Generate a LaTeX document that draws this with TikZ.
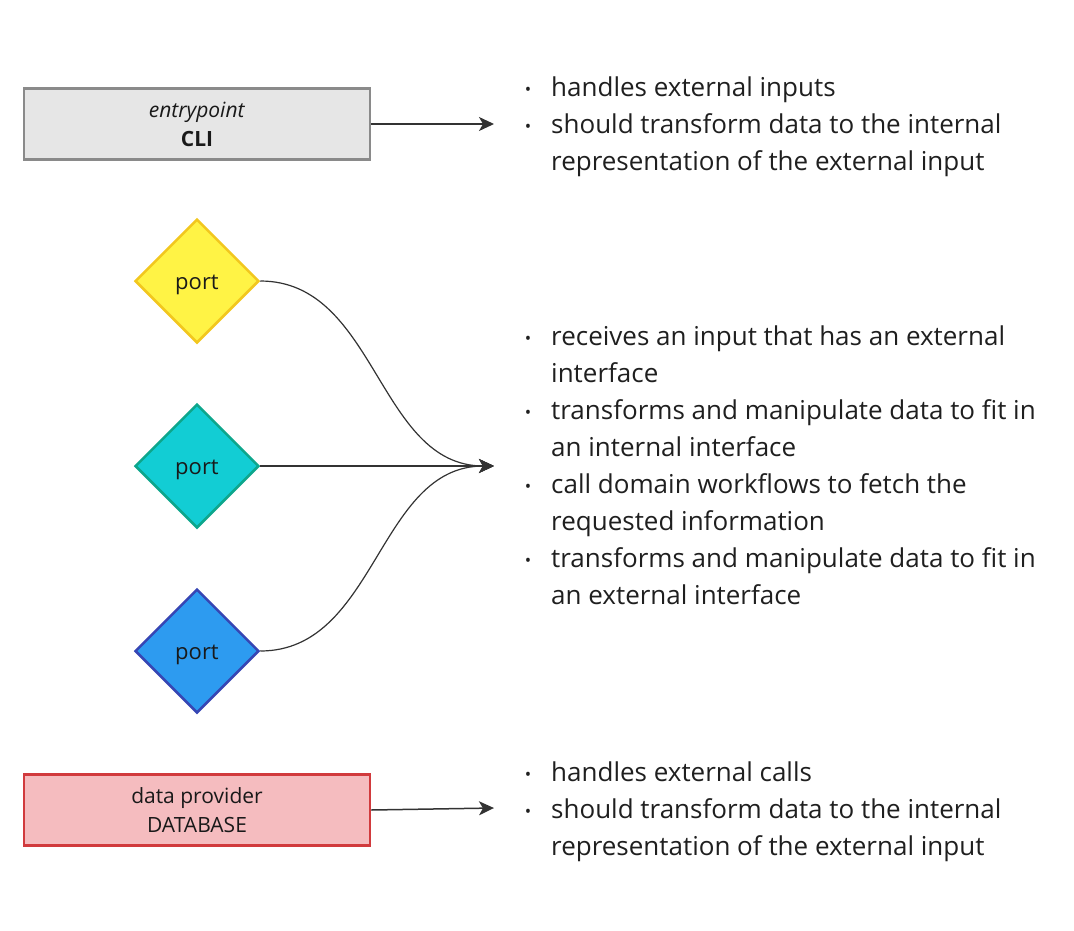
\documentclass[tikz,border=0pt]{standalone}
\usepackage{fontspec}
\setmainfont{Open Sans}
\usetikzlibrary{shapes.geometric,arrows.meta}

\definecolor{cligray}{HTML}{E6E6E6}
\definecolor{cliline}{HTML}{8A8A8A}
\definecolor{dbfill}{HTML}{F5BCBF}
\definecolor{dbline}{HTML}{D13A3D}
\definecolor{yelfill}{HTML}{FFF345}
\definecolor{yelline}{HTML}{F2C71E}
\definecolor{tealfill}{HTML}{12CDD4}
\definecolor{tealline}{HTML}{0DA68C}
\definecolor{bluefill}{HTML}{2D9BF0}
\definecolor{blueline}{HTML}{3646B4}
\definecolor{arrowcol}{HTML}{333333}

\newcommand{\itm}{\llap{{\fontsize{17}{17}\selectfont\raisebox{1pt}{•}}\hspace{20pt}}}

\begin{document}
\begin{tikzpicture}
[x=1pt,y=-1pt,
 box/.style={rectangle,draw,line width=2.5pt,minimum width=346pt,minimum height=71pt,
   align=center,font=\fontsize{21}{29}\selectfont,text=black!90},
 port/.style={diamond,draw,line width=2.5pt,minimum width=124pt,minimum height=124pt,
   inner sep=0pt,text height=17pt,text depth=0pt,font=\fontsize{22}{22}\selectfont,text=black!90},
 note/.style={anchor=north west,align=left,inner sep=0pt,
   font=\fontsize{26}{37}\selectfont,text=black!88},
 link/.style={draw=arrowcol,line width=1.5pt,-{Stealth[length=15pt,width=14pt,inset=4pt]}}]

  \useasboundingbox (0,0) rectangle (1074,930);

  \node[box,fill=cligray,draw=cliline] (cli) at (197,124) {\textit{entrypoint}\\\textbf{CLI}};
  \node[box,fill=dbfill,draw=dbline] (db) at (197,810) {data provider\\DATABASE};

  \node[port,fill=yelfill,draw=yelline] (p1) at (197,281) {port};
  \node[port,fill=tealfill,draw=tealline] (p2) at (197,466) {port};
  \node[port,fill=bluefill,draw=blueline] (p3) at (197,651) {port};

  \coordinate (clitip) at (494,124);
  \coordinate (porttip) at (494,466);
  \coordinate (dbtip) at (494,808);

  \draw[link] (cli.east) -- (clitip);
  \draw[link] (db.east) -- (dbtip);
  \foreach \from in {p1,p2,p3}
    \draw[link,line width=1.2pt] (\from.east) to[out=0,in=180] (porttip);

  \node[note] (clinote) at (551,77) {\itm handles external inputs\\
    \itm should transform data to the internal\\
    representation of the external input};
  \node[note] (portnote) at (551,326) {\itm receives an input that has an external\\
    interface\\
    \itm transforms and manipulate data to fit in\\
    an internal interface\\
    \itm call domain workflows to fetch the\\
    requested information\\
    \itm transforms and manipulate data to fit in\\
    an external interface};
  \node[note] (dbnote) at (551,762) {\itm handles external calls\\
    \itm should transform data to the internal\\
    representation of the external input};

\end{tikzpicture}
\end{document}
